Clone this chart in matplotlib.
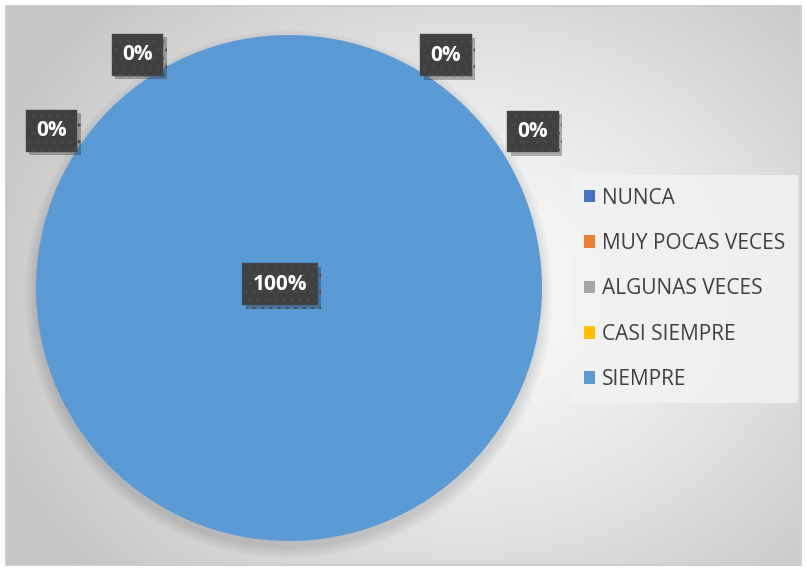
import numpy as np
import matplotlib
matplotlib.use("Agg")
import matplotlib.pyplot as plt
from matplotlib.patches import Rectangle, Patch, Circle
import matplotlib.patheffects as pe

categories = ["NUNCA", "MUY POCAS VECES", "ALGUNAS VECES", "CASI SIEMPRE", "SIEMPRE"]
values = [0, 0, 0, 0, 100]
colors = ["#4472C4", "#ED7D31", "#A5A5A5", "#FFC000", "#5B9BD5"]
# label placement (angle in degrees, radius in pie units) for Excel's moved labels
label_pos = [(146.5, 1.125), (123.0, 1.10), (56.0, 1.11), (32.7, 1.145), None]

W, H = 806, 570
fig = plt.figure(figsize=(W / 100, H / 100), dpi=100)
fig.patch.set_facecolor("white")

# background with radial gradient
bg = fig.add_axes([0, 0, 1, 1])
bg.set_xlim(0, W)
bg.set_ylim(H, 0)
bg.axis("off")
yy, xx = np.mgrid[0:H, 0:W]
d = np.sqrt(((xx - 470) / 520.0) ** 2 + ((yy - 290) / 430.0) ** 2)
d = np.clip(d, 0, 1)
lev = 0.985 - 0.21 * d ** 1.3
img = np.dstack([lev, lev, lev])
bg.imshow(img, extent=(6, W - 6, H - 5, 6), zorder=0, interpolation="bilinear")
bg.add_patch(Rectangle((5.5, 5.5), W - 11, H - 11, fill=False, ec="#c8c8c8", lw=1.2, zorder=2))

# pie
cx, cy, r = 289, 288, 253
ax = fig.add_axes([(cx - 1.2 * r) / W, (H - cy - 1.2 * r) / H, 2.4 * r / W, 2.4 * r / H])
ax.axis("off")

# soft shadow
for i in range(10):
    ax.add_patch(Circle((0.0, -0.025), 1.0 + 0.005 * i, color="black", alpha=0.012, lw=0, zorder=1))

wedges, _ = ax.pie(values, colors=colors, startangle=90, counterclock=False,
                   radius=1.0, wedgeprops=dict(linewidth=0))
for w in wedges:
    w.set_zorder(3)
ax.set_xlim(-1.2, 1.2)
ax.set_ylim(-1.2, 1.2)
ax.set_aspect("equal")

total = sum(values)
for v, pos in zip(values, label_pos):
    pct = f"{round(100 * v / total)}%"
    if pos is None:
        x, y = -0.035, 0.015
    else:
        a, rr = pos
        x, y = rr * np.cos(np.radians(a)), rr * np.sin(np.radians(a))
    t = ax.text(x, y, pct, ha="center", va="center", color="white",
                fontsize=15, fontweight="bold", family="Open Sans", zorder=6,
                bbox=dict(boxstyle="square,pad=0.5", fc="#404040", ec="#4a4a4a",
                          lw=0.3, hatch=".."))
    t.get_bbox_patch().set_path_effects([pe.SimplePatchShadow(offset=(2.5, -2.5), alpha=0.3),
                                         pe.Normal()])

handles = [Patch(facecolor=c, edgecolor="none") for c in colors]
leg = fig.legend(handles, categories, loc="upper left",
                 bbox_to_anchor=(571 / W, 1 - 175 / H),
                 frameon=True, fancybox=False,
                 prop=dict(family="Open Sans", size=15),
                 labelspacing=1.17, handlelength=0.55, handleheight=0.55,
                 handletextpad=0.35, borderpad=0.6, borderaxespad=0)
leg.get_frame().set_facecolor("#f2f2f2")
leg.get_frame().set_edgecolor("none")
leg.get_frame().set_alpha(0.85)
for txt in leg.get_texts():
    txt.set_color("#404040")

fig.savefig("out.png", dpi=100)
